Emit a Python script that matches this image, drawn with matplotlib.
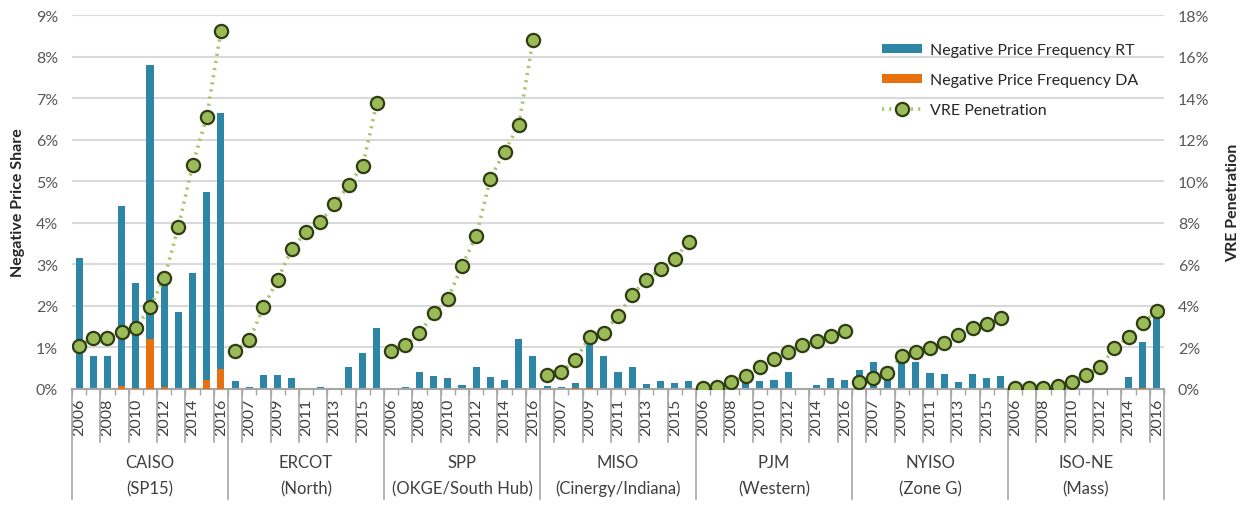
import matplotlib
matplotlib.use("Agg")
import matplotlib.pyplot as plt
import matplotlib.transforms as mtransforms
from matplotlib.patches import Patch
from matplotlib.lines import Line2D
import numpy as np

plt.rcParams['font.family'] = ['Lato', 'DejaVu Sans']

years = [2006, 2007, 2008, 2009, 2010, 2011, 2012, 2013, 2014, 2015, 2016]
markets = ["CAISO\n(SP15)", "ERCOT\n(North)", "SPP\n(OKGE/South Hub)", "MISO\n(Cinergy/Indiana)",
           "PJM\n(Western)", "NYISO\n(Zone G)", "ISO-NE\n(Mass)"]

rt_caiso = [3.15, 0.80, 0.80, 4.40, 2.55, 7.80, 2.60, 1.85, 2.80, 4.75, 6.65]
rt_ercot = [0.20, 0.06, 0.34, 0.33, 0.27, 0.00, 0.06, 0.01, 0.52, 0.86, 1.47]
rt_spp   = [0.00, 0.06, 0.42, 0.32, 0.26, 0.10, 0.53, 0.30, 0.22, 1.20, 0.80]
rt_miso  = [0.08, 0.04, 0.15, 1.22, 0.79, 0.40, 0.52, 0.11, 0.20, 0.15, 0.20]
rt_pjm   = [0.00, 0.00, 0.20, 0.24, 0.20, 0.22, 0.42, 0.00, 0.10, 0.26, 0.22]
rt_nyiso = [0.46, 0.64, 0.50, 0.75, 0.64, 0.38, 0.36, 0.18, 0.36, 0.26, 0.31]
rt_isone = [0.00, 0.00, 0.00, 0.00, 0.00, 0.00, 0.00, 0.00, 0.28, 1.14, 1.85]

da_caiso = [0.00, 0.00, 0.00, 0.08, 0.03, 1.20, 0.05, 0.00, 0.02, 0.22, 0.48]
da_ercot = [0.00] * 11
da_spp   = [0.00] * 11
da_miso  = [0.00, 0.00, 0.02, 0.02, 0.00, 0.00, 0.00, 0.00, 0.00, 0.00, 0.00]
da_pjm   = [0.00] * 11
da_nyiso = [0.00] * 11
da_isone = [0.00, 0.00, 0.00, 0.00, 0.00, 0.00, 0.00, 0.00, 0.00, 0.02, 0.00]

vre_caiso = [2.08, 2.44, 2.44, 2.72, 2.93, 3.93, 5.32, 7.80, 10.77, 13.10, 17.23]
vre_ercot = [1.81, 2.34, 3.93, 5.27, 6.73, 7.56, 8.03, 8.88, 9.81, 10.75, 13.78]
vre_spp   = [1.84, 2.12, 2.68, 3.64, 4.33, 5.93, 7.37, 10.13, 11.43, 12.69, 16.78]
vre_miso  = [0.66, 0.82, 1.41, 2.50, 2.71, 3.53, 4.53, 5.26, 5.77, 6.28, 7.08]
vre_pjm   = [0.05, 0.08, 0.32, 0.64, 1.04, 1.44, 1.76, 2.13, 2.29, 2.53, 2.77]
vre_nyiso = [0.32, 0.51, 0.77, 1.57, 1.76, 1.99, 2.20, 2.61, 2.95, 3.13, 3.40]
vre_isone = [0.05, 0.03, 0.05, 0.16, 0.35, 0.69, 1.07, 1.96, 2.52, 3.17, 3.77]

rt_all = [rt_caiso, rt_ercot, rt_spp, rt_miso, rt_pjm, rt_nyiso, rt_isone]
da_all = [da_caiso, da_ercot, da_spp, da_miso, da_pjm, da_nyiso, da_isone]
vre_all = [vre_caiso, vre_ercot, vre_spp, vre_miso, vre_pjm, vre_nyiso, vre_isone]

C_RT = "#2E86A6"
C_DA = "#E8700E"
C_VRE = "#9BBB59"
C_DOT = "#A9C46A"
C_EDGE = "#2F3D14"
C_TXT = "#595959"
C_YEAR = "#404040"
C_GRID = "#D9D9D9"
C_AX = "#A6A6A6"

W, H = 1246, 506
fig = plt.figure(figsize=(W / 100, H / 100), dpi=100)
L, R, T, B = 72, 1164, 16, 390
ax = fig.add_axes([L / W, 1 - B / H, (R - L) / W, (B - T) / H])
ax2 = ax.twinx()

n = len(years)
ng = len(markets)
for g in range(ng):
    x = np.arange(n) + g * n
    ax.bar(x, rt_all[g], width=0.5, color=C_RT, zorder=2)
    ax.bar(x, da_all[g], width=0.5, color=C_DA, zorder=3)
    ax2.plot(x, vre_all[g], linestyle=(0, (0.6, 1.4)), color=C_DOT, lw=2.6,
             marker='o', markersize=9.5, markerfacecolor=C_VRE,
             markeredgecolor=C_EDGE, markeredgewidth=1.6, zorder=4)

total = n * ng
ax.set_xlim(-0.5, total - 0.5)
ax.set_ylim(0, 9)
ax2.set_ylim(0, 18)
ax.set_yticks(np.arange(0, 10, 1))
ax.set_yticklabels([f"{v}%" for v in range(0, 10)])
ax2.set_yticks(np.arange(0, 20, 2))
ax2.set_yticklabels([f"{v}%" for v in range(0, 20, 2)])
ax.yaxis.grid(True, color=C_GRID, lw=1.5, zorder=0)
ax.set_axisbelow(True)

for a in (ax, ax2):
    for s in a.spines.values():
        s.set_visible(False)
    a.tick_params(axis='y', length=0, labelsize=11.5, labelcolor=C_TXT, pad=10)
ax.spines['bottom'].set_visible(True)
ax.spines['bottom'].set_color(C_AX)
ax.spines['bottom'].set_linewidth(1.5)

# x tick labels: every other category
lab_idx = list(range(0, total, 2))
ax.set_xticks(lab_idx)
ax.set_xticklabels([str(years[i % n]) for i in lab_idx], rotation=90)
ax.tick_params(axis='x', length=0, labelsize=11.5, labelcolor=C_YEAR, pad=6)
ax.set_xticks(np.arange(-0.5, total, 1), minor=True)
ax.tick_params(axis='x', which='minor', length=4, color=C_AX, width=1)

trans = mtransforms.blended_transform_factory(ax.transData, ax.transAxes)
ah = B - T
y_row = -(443 - B) / ah
y_sep = -(500 - B) / ah
for b in range(0, total + 1):
    if b % n == 0:
        ax.plot([b - 0.5, b - 0.5], [0, y_sep], transform=trans, color=C_AX,
                lw=1.2, clip_on=False)
    elif b % 2 == 0:
        ax.plot([b - 0.5, b - 0.5], [0, y_row], transform=trans, color=C_AX,
                lw=1.2, clip_on=False)

y_grp = -(476 - B) / ah
for g, name in enumerate(markets):
    ax.text(g * n + (n - 1) / 2, y_grp, name, transform=trans, ha='center',
            va='center', fontsize=12, color=C_YEAR, linespacing=1.75)

ax.set_ylabel("Negative Price Share", fontsize=11.5, fontweight='bold',
              color="#262626", labelpad=8)
ax2.set_ylabel("VRE Penetration", fontsize=11.5, fontweight='bold',
               color="#262626", labelpad=12)

handles = [Patch(facecolor=C_RT), Patch(facecolor=C_DA),
           Line2D([], [], linestyle=(0, (0.6, 1.4)), color=C_DOT, lw=2.6, marker='o',
                  markersize=9.5, markerfacecolor=C_VRE, markeredgecolor=C_EDGE,
                  markeredgewidth=1.6)]
labels = ["Negative Price Frequency RT", "Negative Price Frequency DA", "VRE Penetration"]
leg = ax2.legend(handles, labels, loc='upper left', bbox_to_anchor=(868 / W, 1 - 30 / H),
                 bbox_transform=fig.transFigure, frameon=False, fontsize=11.5,
                 labelspacing=1.0, handlelength=2.5, handleheight=0.5, handletextpad=0.5)
for t in leg.get_texts():
    t.set_color("#262626")

fig.savefig("out.png", dpi=100)
